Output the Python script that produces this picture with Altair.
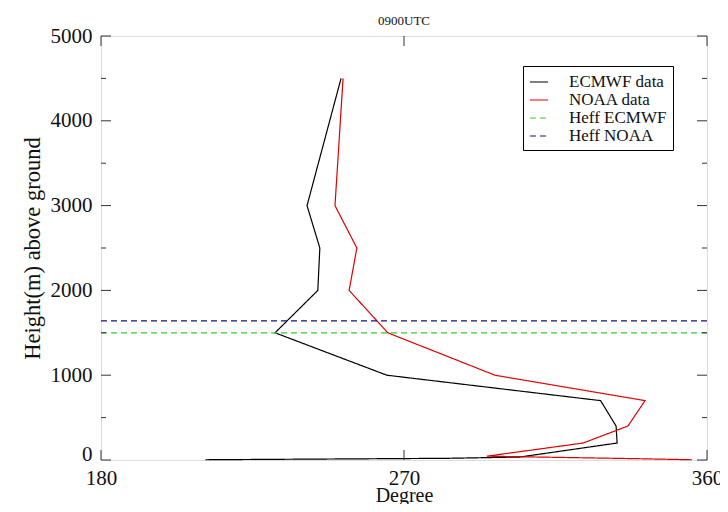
import altair as alt
import pandas as pd

# ---- data ----
ecmwf_deg = [251.3, 241.2, 245.0, 244.4, 231.7, 264.9, 328.4, 333.0, 333.3, 304.4, 283.0, 211.0]
ecmwf_h = [4500, 3000, 2500, 2000, 1500, 1000, 700, 400, 200, 35, 20, 3]
noaa_deg = [251.9, 249.5, 256.0, 253.7, 265.2, 297.0, 341.6, 336.5, 323.2, 294.6, 340.0, 355.5]
noaa_h = [4500, 3000, 2500, 2000, 1500, 1000, 700, 400, 200, 45, 15, 3]
heff_ecmwf = 1500
heff_noaa = 1640

series_names = ["ECMWF data", "NOAA data", "Heff ECMWF", "Heff NOAA"]
series_colors = ["#000000", "#dd0000", "#33cc33", "#14146e"]
series_dash = [[1, 0], [1, 0], [6, 4], [6, 4]]

x_domain = [180, 360]
y_domain = [0, 5000]
x_ticks = [180, 270, 360]
y_ticks = [0, 1000, 2000, 3000, 4000, 5000]
y_minor = [500, 1500, 2500, 3500, 4500]

W, H = 606, 424
FONT = "Liberation Serif"

rows = []
for i, (d, h) in enumerate(zip(ecmwf_deg, ecmwf_h)):
    rows.append({"series": "ECMWF data", "deg": d, "h": h, "o": i})
for i, (d, h) in enumerate(zip(noaa_deg, noaa_h)):
    rows.append({"series": "NOAA data", "deg": d, "h": h, "o": i})
for name, hv in [("Heff ECMWF", heff_ecmwf), ("Heff NOAA", heff_noaa)]:
    for i, d in enumerate(x_domain):
        rows.append({"series": name, "deg": d, "h": hv, "o": i})
df = pd.DataFrame(rows)

xs = alt.Scale(domain=x_domain, nice=False, zero=False)
ys = alt.Scale(domain=y_domain, nice=False, zero=False)

legend_props = dict(title=None, orient="none", legendX=422, legendY=30,
                    symbolType="stroke", symbolSize=330, symbolStrokeWidth=1.2,
                    labelFont=FONT, labelFontSize=17, labelColor="#111",
                    labelOffset=20, rowPadding=0,
                    padding=6, strokeColor="#000", fillColor="#fff")

lines = alt.Chart(df).mark_line(strokeWidth=1.2).encode(
    x=alt.X("deg:Q", scale=xs, title="Degree",
            axis=alt.Axis(values=x_ticks, format="d", ticks=False, domain=False, grid=False,
                          labelFont=FONT, labelFontSize=21, labelColor="#111",
                          labelPadding=7, titleFont=FONT, titleFontSize=20,
                          titleFontWeight="normal", titleColor="#111", titlePadding=-3,
                          labelFlush=False)),
    y=alt.Y("h:Q", scale=ys, title="Height(m) above ground",
            axis=alt.Axis(values=y_ticks, format="d", ticks=False, domain=False, grid=False,
                          labelFont=FONT, labelFontSize=21, labelColor="#111",
                          labelPadding=9,
                          labelBaseline=alt.condition("datum.value == 0",
                                                      alt.value("alphabetic"),
                                                      alt.value("middle")),
                          titleFont=FONT, titleFontSize=22.5,
                          titleFontWeight="normal", titleColor="#111", titlePadding=6)),
    color=alt.Color("series:N", scale=alt.Scale(domain=series_names, range=series_colors),
                    legend=alt.Legend(**legend_props)),
    strokeDash=alt.StrokeDash("series:N", scale=alt.Scale(domain=series_names, range=series_dash),
                              legend=alt.Legend(**legend_props)),
    detail="series:N",
    order="o:Q",
)

ymaj = pd.DataFrame({"v": y_ticks})
ymin = pd.DataFrame({"v": y_minor})
xmaj = pd.DataFrame({"v": x_ticks})

tick_color = "#333"
tl = alt.Chart(ymaj).mark_rule(color=tick_color).encode(y=alt.Y("v:Q", scale=ys), x=alt.value(0), x2=alt.value(10))
tr = alt.Chart(ymaj).mark_rule(color=tick_color).encode(y=alt.Y("v:Q", scale=ys), x=alt.value(W - 10), x2=alt.value(W))
tml = alt.Chart(ymin).mark_rule(color=tick_color).encode(y=alt.Y("v:Q", scale=ys), x=alt.value(0), x2=alt.value(5))
tmr = alt.Chart(ymin).mark_rule(color=tick_color).encode(y=alt.Y("v:Q", scale=ys), x=alt.value(W - 5), x2=alt.value(W))
tb = alt.Chart(xmaj).mark_rule(color=tick_color).encode(x=alt.X("v:Q", scale=xs), y=alt.value(H), y2=alt.value(H - 10))
tt = alt.Chart(xmaj).mark_rule(color=tick_color).encode(x=alt.X("v:Q", scale=xs), y=alt.value(0), y2=alt.value(10))

chart = alt.layer(lines, tl, tr, tml, tmr, tb, tt).properties(
    width=W, height=H,
    title=alt.TitleParams("0900UTC", font=FONT, fontSize=13, fontWeight="normal",
                          color="#111", offset=0, dy=3, anchor="middle", frame="group"),
    autosize=alt.AutoSizeParams(type="none"),
    padding={"left": 93, "top": 28, "right": 13, "bottom": 44},
).configure_view(stroke="#222", strokeWidth=1.2).configure(background="white")

chart.save("out.html", embed_options={"renderer": "svg", "actions": False})
